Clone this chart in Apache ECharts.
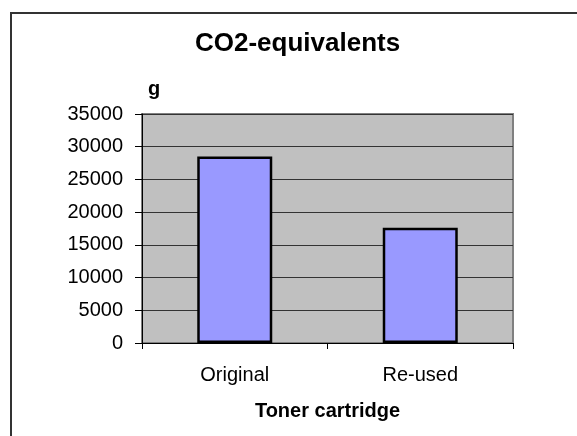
<!DOCTYPE html>
<html>
<head>
<meta charset="utf-8">
<script src="https://cdn.jsdelivr.net/npm/echarts@6/dist/echarts.min.js"></script>
<style>
  html, body { margin: 0; padding: 0; background: #fff; }
  #chart { width: 577px; height: 436px; }
</style>
</head>
<body>
<div id="chart"></div>
<script>
// datos del gráfico
var categories = ["Original", "Re-used"];
var co2Values = [28500, 17600];
var yTicks = [0, 5000, 10000, 15000, 20000, 25000, 30000, 35000];

var fontFam = "'Liberation Sans', Arial, sans-serif";

var myChart = echarts.init(document.getElementById("chart"));

var option = {
    backgroundColor: "#ffffff",
    animation: false,
    title: {
        text: "CO2-equivalents",
        left: 190,
        top: 26,
        textStyle: { fontFamily: fontFam, fontSize: 26, fontWeight: "bold", color: "#000" }
    },
    // marco exterior del gráfico
    graphic: [{
        type: "rect",
        shape: { x: 11, y: 13, width: 620, height: 480 },
        style: { fill: "none", stroke: "#333", lineWidth: 2 },
        silent: true
    }],
    grid: {
        left: 142,
        right: 64,
        top: 114,
        bottom: 93,
        show: true,
        backgroundColor: "#c0c0c0",
        borderColor: "#808080",
        borderWidth: 2
    },
    xAxis: {
        type: "category",
        data: categories,
        name: "Toner cartridge",
        nameLocation: "middle",
        nameGap: 58,
        nameTextStyle: { fontFamily: fontFam, fontSize: 20, fontWeight: "bold", color: "#000" },
        axisLine: { lineStyle: { color: "#000", width: 1 } },
        axisTick: { show: true, length: 6, lineStyle: { color: "#000" } },
        axisLabel: { fontFamily: fontFam, fontSize: 20, color: "#000", margin: 22 }
    },
    yAxis: {
        type: "value",
        min: yTicks[0],
        max: yTicks[yTicks.length - 1],
        interval: yTicks[1] - yTicks[0],
        name: "g",
        nameLocation: "end",
        nameGap: 15,
        nameTextStyle: { fontFamily: fontFam, fontSize: 20, fontWeight: "bold", color: "#000", padding: [0, 0, 0, 24] },
        axisLine: { show: true, lineStyle: { color: "#000", width: 1 } },
        axisTick: { show: true, length: 7, lineStyle: { color: "#000" } },
        axisLabel: {
            fontFamily: fontFam, fontSize: 20, color: "#000", margin: 19,
            formatter: function (v) { return String(v); } // sin separador de miles
        },
        splitLine: { show: true, lineStyle: { color: "#333", width: 1 } }
    },
    series: [{
        type: "bar",
        data: co2Values,
        barWidth: 75,
        itemStyle: { color: "#9999ff", borderColor: "#000", borderWidth: 2.5 }
    }]
};

myChart.setOption(option);
</script>
</body>
</html>
